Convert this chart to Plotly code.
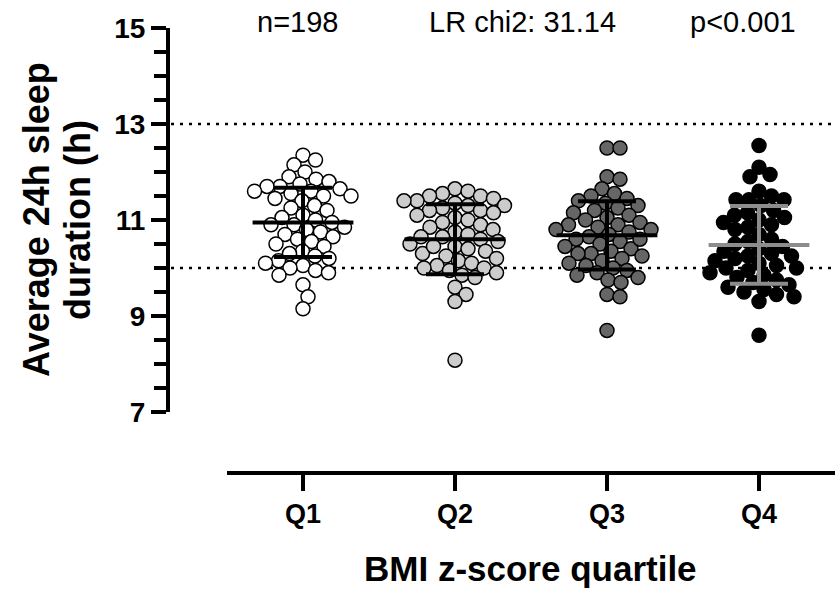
import plotly.graph_objects as go

# ---------------- data ----------------
categories = ["Q1", "Q2", "Q3", "Q4"]

q1_values = [12.35, 12.25, 12.15, 12.0, 11.9, 11.85, 11.8, 11.75, 11.7, 11.7,
             11.65, 11.6, 11.6, 11.55, 11.5, 11.5, 11.45, 11.4, 11.3, 11.25,
             11.2, 11.1, 11.05, 11.0, 10.95, 10.9, 10.9, 10.85, 10.8, 10.75,
             10.7, 10.65, 10.6, 10.55, 10.5, 10.45, 10.35, 10.3, 10.25, 10.2,
             10.15, 10.1, 10.05, 10.0, 9.95, 9.9, 9.85, 9.65, 9.4, 9.15]

q2_values = [11.65, 11.6, 11.55, 11.5, 11.5, 11.45, 11.4, 11.4, 11.35, 11.3,
             11.3, 11.25, 11.2, 11.2, 11.15, 11.1, 11.05, 11.0, 10.95, 10.9,
             10.85, 10.8, 10.75, 10.7, 10.65, 10.6, 10.55, 10.5, 10.45, 10.4,
             10.35, 10.3, 10.25, 10.2, 10.15, 10.1, 10.05, 10.0, 10.0, 9.95,
             9.9, 9.85, 9.8, 9.6, 9.45, 9.3, 8.08, 10.45, 10.65]

q3_values = [12.5, 12.5, 11.9, 11.85, 11.65, 11.55, 11.5, 11.45, 11.4, 11.35,
             11.3, 11.25, 11.2, 11.15, 11.1, 11.05, 11.0, 10.95, 10.9, 10.9,
             10.85, 10.8, 10.75, 10.7, 10.65, 10.6, 10.55, 10.5, 10.45, 10.4,
             10.35, 10.3, 10.3, 10.25, 10.2, 10.15, 10.1, 10.05, 10.0, 9.95,
             9.9, 9.85, 9.8, 9.75, 9.7, 9.45, 9.4, 8.7, 10.6, 10.8]

q4_values = [12.55, 12.1, 11.95, 11.9, 11.6, 11.5, 11.42, 11.42, 11.42, 11.3,
             11.2, 11.15, 11.1, 11.05, 11.0, 10.95, 10.9, 10.85, 10.8, 10.7,
             10.6, 10.55, 10.5, 10.45, 10.4, 10.35, 10.3, 10.25, 10.2, 10.15,
             10.1, 10.05, 10.0, 10.0, 9.95, 9.9, 9.85, 9.8, 9.75, 9.7,
             9.65, 9.6, 9.55, 9.5, 9.45, 9.4, 9.3, 8.6, 10.25]

group_means = [10.95, 10.60, 10.68, 10.48]
group_sds = [0.72, 0.73, 0.71, 0.81]

reference_lines = [13, 10]
y_ticks = [7, 9, 11, 13, 15]

annotation_texts = ["n=198", "LR chi2: 31.14", "p<0.001"]
x_title = "BMI z-score quartile"
y_title_lines = ["Average 24h sleep", "duration (h)"]

# ---------------- styling ----------------
W, H = 835, 590
FONT = "Liberation Sans, Arial, Helvetica, sans-serif"
fills = ["#ffffff", "#cccccc", "#666666", "#000000"]
bar_colors = ["#000000", "#000000", "#000000", "#8c8c8c"]

# pixel geometry of the plot
X_LEFT, Y_AXIS_X = 227, 168
Y_TOP, Y_BOT = 28, 412
X_AXIS_Y = 473
X_RANGE = [0.5, 4.5]
Y_RANGE = [7, 15]
px_per_x = (W - X_LEFT) / (X_RANGE[1] - X_RANGE[0])
px_per_y = (Y_BOT - Y_TOP) / (Y_RANGE[1] - Y_RANGE[0])


def swarm_offsets(vals, min_dist=13.0):
    """Beeswarm layout: horizontal offsets (data units) so markers don't pile up."""
    order = sorted(range(len(vals)), key=lambda i: -vals[i])
    placed = []
    offs = [0.0] * len(vals)
    for i in order:
        yp = vals[i] * px_per_y
        chosen = 0.0
        for k in range(0, 400):
            found = False
            for s in ([0] if k == 0 else [k, -k]):
                x = s * 0.5
                if all((x - a) ** 2 + (yp - b) ** 2 >= min_dist ** 2 for a, b in placed):
                    chosen = x
                    found = True
                    break
            if found:
                break
        placed.append((chosen, yp))
        offs[i] = chosen / px_per_x
    return offs


fig = go.Figure()

all_values = [q1_values, q2_values, q3_values, q4_values]
for gi, vals in enumerate(all_values):
    offs = swarm_offsets(vals)
    fig.add_trace(go.Scatter(
        x=[gi + 1 + o for o in offs], y=vals, mode="markers",
        marker=dict(size=14, color=fills[gi], line=dict(color="#000000", width=1.5)),
        showlegend=False, cliponaxis=False, hoverinfo="y"))

for gi in range(4):
    fig.add_trace(go.Scatter(
        x=[gi + 1], y=[group_means[gi]], mode="markers",
        marker=dict(symbol="line-ew-open", size=72, color=bar_colors[gi],
                    line=dict(color=bar_colors[gi], width=4)),
        error_y=dict(type="data", array=[group_sds[gi]], visible=True,
                     color=bar_colors[gi], thickness=4, width=29),
        showlegend=False, cliponaxis=False))

shapes = []
for yv in reference_lines:
    shapes.append(dict(type="line", xref="paper", yref="y",
                       x0=(Y_AXIS_X + 3) / W, x1=1, y0=yv, y1=yv,
                       line=dict(color="#000000", width=2.5, dash="3px,6px"),
                       layer="below"))

annotations = []
for txt, xp in zip(annotation_texts, [297, 522, 743]):
    annotations.append(dict(text=txt, xref="paper", yref="paper",
                            x=xp / W, y=1 - 22 / H, showarrow=False,
                            xanchor="center", yanchor="middle",
                            font=dict(family=FONT, size=29, color="#000000")))
annotations.append(dict(text="<b>%s</b>" % x_title, xref="paper", yref="paper",
                        x=530 / W, y=1 - 568 / H, showarrow=False,
                        xanchor="center", yanchor="middle",
                        font=dict(family=FONT, size=35, color="#000000")))
for line, xp in zip(y_title_lines, [36, 77]):
    annotations.append(dict(text="<b>%s</b>" % line, xref="paper", yref="paper",
                            x=xp / W, y=1 - 220 / H, showarrow=False, textangle=-90,
                            xanchor="center", yanchor="middle",
                            font=dict(family=FONT, size=36, color="#000000")))

fig.update_layout(
    template="none",
    width=W, height=H,
    margin=dict(l=0, r=0, t=0, b=0, pad=0),
    paper_bgcolor="#ffffff", plot_bgcolor="rgba(0,0,0,0)",
    showlegend=False,
    shapes=shapes, annotations=annotations,
    xaxis=dict(domain=[X_LEFT / W, 1], range=X_RANGE, anchor="free",
               position=1 - X_AXIS_Y / H,
               tickmode="array", tickvals=[1, 2, 3, 4],
               ticktext=["<b>%s</b>" % c for c in categories],
               ticks="outside", ticklen=16, tickwidth=4, tickcolor="#000000",
               showline=True, linewidth=4, linecolor="#000000",
               showgrid=False, zeroline=False, automargin=False,
               tickfont=dict(family=FONT, size=27, color="#000000")),
    yaxis=dict(domain=[1 - Y_BOT / H, 1 - Y_TOP / H], range=Y_RANGE, anchor="free",
               position=Y_AXIS_X / W,
               tickmode="array", tickvals=y_ticks,
               ticktext=["<b>%d</b>" % t for t in y_ticks],
               ticks="outside", ticklen=15, tickwidth=4, tickcolor="#000000",
               minor=dict(dtick=0.5, tick0=7, ticks="outside", ticklen=12,
                          tickwidth=4, tickcolor="#000000", showgrid=False),
               showline=True, linewidth=4, linecolor="#000000",
               showgrid=False, zeroline=False, automargin=False,
               tickfont=dict(family=FONT, size=28, color="#000000")),
)

fig.write_html("out.html",
               config={"displayModeBar": False, "staticPlot": True},
               post_script="document.body.style.margin='0px';"
                           "document.body.style.overflow='hidden';")
